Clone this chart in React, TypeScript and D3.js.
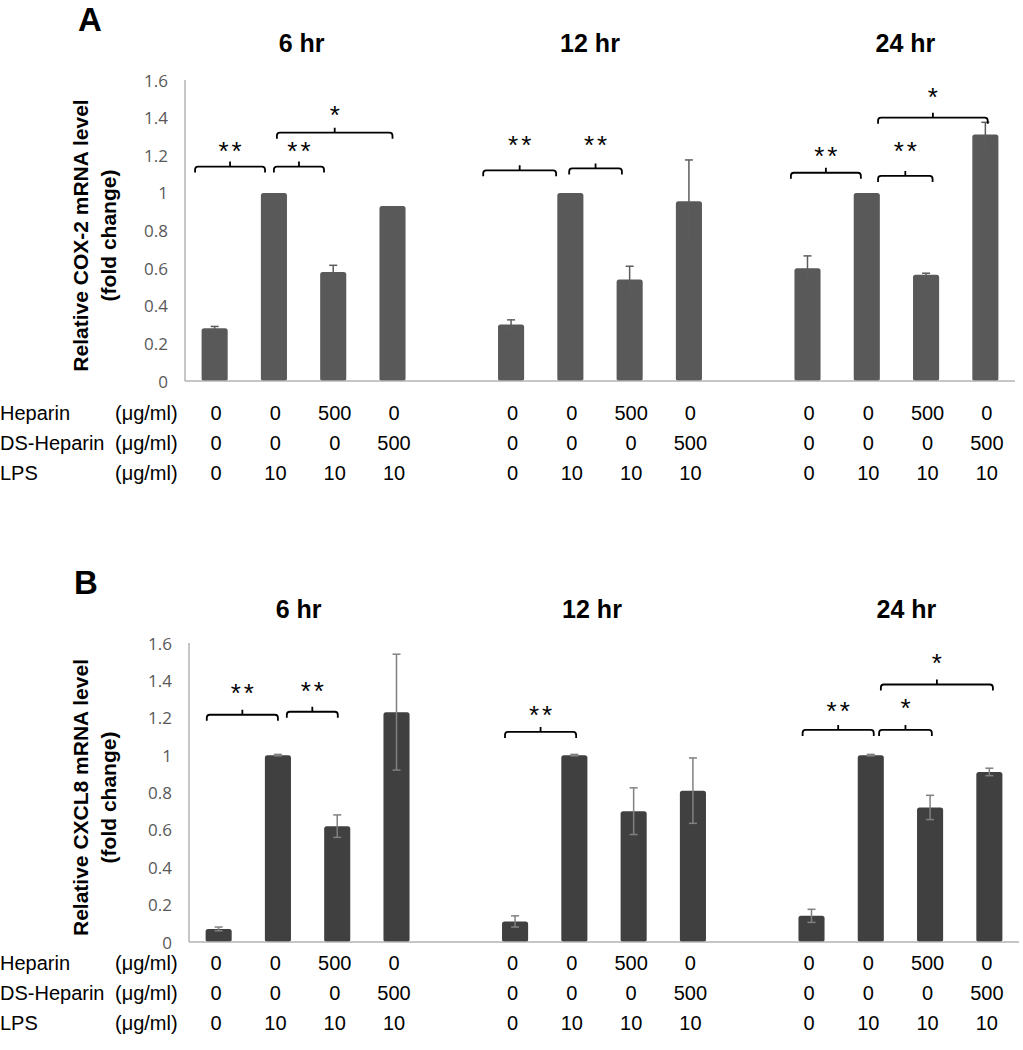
import React from "react";
import * as d3 from "d3";

// ---------- DATA ----------
const groups = ["6 hr", "12 hr", "24 hr"];
const conditions = ["Control", "LPS", "Heparin+LPS", "DS-Heparin+LPS"];

const cox2Values = [
  [0.28, 1.0, 0.58, 0.93],
  [0.30, 1.0, 0.54, 0.955],
  [0.60, 1.0, 0.565, 1.31],
];
const cox2Errors = [
  [0.01, 0, 0.035, 0],
  [0.025, 0, 0.07, 0.22],
  [0.065, 0, 0.008, 0.065],
];

const cxcl8Values = [
  [0.07, 1.0, 0.62, 1.23],
  [0.11, 1.0, 0.70, 0.81],
  [0.14, 1.0, 0.72, 0.91],
];
const cxcl8Errors = [
  [0.01, 0.004, 0.06, 0.31],
  [0.03, 0.004, 0.125, 0.175],
  [0.035, 0.004, 0.065, 0.02],
];

const yTicks = [0, 0.2, 0.4, 0.6, 0.8, 1, 1.2, 1.4, 1.6];

const rowLabels = ["Heparin", "DS-Heparin", "LPS"];
const unitLabel = "(μg/ml)";
const heparinRow = ["0", "0", "500", "0"];
const dsHeparinRow = ["0", "0", "0", "500"];
const lpsRow = ["0", "10", "10", "10"];

// significance brackets: from/to in condition-index units, level/starLevel in data units
const cox2Brackets = [
  { g: 0, from: -0.33, to: 0.85, level: 1.14, starLevel: 1.25, label: "**" },
  { g: 0, from: 1.0, to: 1.845, level: 1.14, starLevel: 1.25, label: "**" },
  { g: 0, from: 1.05, to: 3.0, level: 1.32, starLevel: 1.44, label: "*" },
  { g: 1, from: -0.47, to: 0.76, level: 1.12, starLevel: 1.283, label: "**" },
  { g: 1, from: 0.98, to: 1.87, level: 1.13, starLevel: 1.283, label: "**" },
  { g: 2, from: -0.28, to: 0.9, level: 1.107, starLevel: 1.225, label: "**" },
  { g: 2, from: 1.19, to: 2.11, level: 1.09, starLevel: 1.25, label: "**" },
  { g: 2, from: 1.19, to: 3.04, level: 1.4, starLevel: 1.535, label: "*" },
];
const cxcl8Brackets = [
  { g: 0, from: -0.2, to: 1.0, level: 1.216, starLevel: 1.357, label: "**" },
  { g: 0, from: 1.15, to: 2.01, level: 1.232, starLevel: 1.368, label: "**" },
  { g: 1, from: -0.17, to: 1.03, level: 1.124, starLevel: 1.243, label: "**" },
  { g: 2, from: -0.15, to: 1.05, level: 1.135, starLevel: 1.265, label: "**" },
  { g: 2, from: 1.14, to: 2.03, level: 1.135, starLevel: 1.281, label: "*" },
  { g: 2, from: 1.17, to: 3.06, level: 1.378, starLevel: 1.519, label: "*" },
];

// ---------- LAYOUT ----------
const W = 1023;
const H = 1050;
const FONT = "'Liberation Sans', Arial, sans-serif";
const TICKFONT = "'Open Sans', 'Liberation Sans', sans-serif";

function makeX(x0: number, x1: number) {
  const outer = d3.scaleBand<string>().domain(groups).range([x0, x1]).paddingInner(0.2).paddingOuter(0);
  const inner = d3.scaleBand<string>().domain(conditions).range([0, outer.bandwidth()]).paddingInner(0.56).paddingOuter(0.28);
  const center = (g: number, pos: number) => (outer(groups[g]) as number) + inner.step() * (pos + 0.5);
  return { outer, inner, center };
}

function bracketPath(x1: number, x2: number, y: number) {
  const hook = 6;
  const r = 3;
  const mid = (x1 + x2) / 2;
  return (
    `M${x1},${y + hook} L${x1},${y + r} Q${x1},${y} ${x1 + r},${y} ` +
    `L${x2 - r},${y} Q${x2},${y} ${x2},${y + r} L${x2},${y + hook} ` +
    `M${mid},${y} L${mid},${y - 5}`
  );
}

type PanelProps = {
  letter: string;
  letterX: number;
  letterY: number;
  titleY: number;
  titleDx: number[];
  axisX0: number;
  axisX1: number;
  y0: number;
  yTop: number;
  values: number[][];
  errors: number[][];
  brackets: typeof cox2Brackets;
  barColor: string;
  errColor: string;
  yTitle: string;
  tableY: number;
};

function Panel(p: PanelProps) {
  const { outer, inner, center } = makeX(p.axisX0, p.axisX1);
  const y = d3.scaleLinear().domain([0, 1.6]).range([p.y0, p.yTop]);
  const tableX = makeX(185 + 1.5, 1015 + 1.5);
  const yMid = (p.y0 + p.yTop) / 2 + 5;
  const rows = [heparinRow, dsHeparinRow, lpsRow];
  return (
    <g>
      <text x={p.letterX} y={p.letterY} fontFamily={FONT} fontWeight="bold" fontSize={33} fill="#000">
        {p.letter}
      </text>
      {groups.map((g, gi) => (
        <text
          key={g}
          x={(outer(g) as number) + outer.bandwidth() / 2 + p.titleDx[gi]}
          y={p.titleY}
          textAnchor="middle"
          fontFamily={FONT}
          fontWeight="bold"
          fontSize={25}
          fill="#000"
        >
          {g}
        </text>
      ))}
      {/* y axis title */}
      <g transform={`translate(80,${yMid}) rotate(-90)`}>
        <text textAnchor="middle" dominantBaseline="central" fontFamily={FONT} fontWeight="bold" fontSize={21} fill="#000">
          {p.yTitle}
        </text>
      </g>
      <g transform={`translate(108,${yMid}) rotate(-90)`}>
        <text textAnchor="middle" dominantBaseline="central" fontFamily={FONT} fontWeight="bold" fontSize={21} fill="#000">
          (fold change)
        </text>
      </g>
      {/* y ticks */}
      {yTicks.map((t) => (
        <text
          key={t}
          x={p.axisX0 - 17}
          y={y(t)}
          textAnchor="end"
          dominantBaseline="central"
          fontFamily={TICKFONT}
          fontSize={17}
          fill="#595959"
        >
          {String(t)}
        </text>
      ))}
      {/* bars */}
      {p.values.map((vals, gi) =>
        vals.map((v, ci) => {
          const bx = (outer(groups[gi]) as number) + (inner(conditions[ci]) as number);
          return (
            <rect
              key={`b${gi}-${ci}`}
              x={bx}
              y={y(v)}
              width={inner.bandwidth()}
              height={p.y0 - y(v)}
              rx={2.5}
              fill={p.barColor}
            />
          );
        })
      )}
      {/* error bars */}
      {p.values.map((vals, gi) =>
        vals.map((v, ci) => {
          const e = p.errors[gi][ci];
          if (e <= 0) return null;
          const cx = center(gi, ci);
          return (
            <g key={`e${gi}-${ci}`} stroke={p.errColor} strokeWidth={1.5}>
              <line x1={cx} x2={cx} y1={y(v + e)} y2={y(v - e)} />
              <line x1={cx - 4} x2={cx + 4} y1={y(v + e)} y2={y(v + e)} />
              <line x1={cx - 4} x2={cx + 4} y1={y(v - e)} y2={y(v - e)} />
            </g>
          );
        })
      )}
      {/* axes */}
      <line x1={p.axisX0} x2={p.axisX0} y1={y(1.6)} y2={p.y0} stroke="#b3b3b3" strokeWidth={1.5} />
      <line x1={p.axisX0} x2={p.axisX1} y1={p.y0} y2={p.y0} stroke="#b3b3b3" strokeWidth={1.5} />
      {/* brackets */}
      {p.brackets.map((b, i) => {
        const x1 = center(b.g, b.from);
        const x2 = center(b.g, b.to);
        return (
          <g key={`br${i}`}>
            <path d={bracketPath(x1, x2, y(b.level))} fill="none" stroke="#000" strokeWidth={1.8} />
            <text
              x={(x1 + x2) / 2 + (b.label.length > 1 ? 1.5 : 0)}
              y={y(b.starLevel) + 14}
              textAnchor="middle"
              fontFamily={FONT}
              fontSize={26}
              letterSpacing={b.label.length > 1 ? 3 : 0}
              fill="#000"
            >
              {b.label}
            </text>
          </g>
        );
      })}
      {/* table */}
      {rowLabels.map((lab, ri) => (
        <g key={lab}>
          <text x={0} y={p.tableY + ri * 30 + 7} fontFamily={FONT} fontSize={20} fill="#000">
            {lab}
          </text>
          <text x={115} y={p.tableY + ri * 30 + 7} fontFamily={FONT} fontSize={20} fill="#000">
            {unitLabel}
          </text>
          {groups.map((g, gi) =>
            rows[ri].map((val, ci) => (
              <text
                key={`${gi}-${ci}`}
                x={tableX.center(gi, ci)}
                y={p.tableY + ri * 30 + 7}
                textAnchor="middle"
                fontFamily={FONT}
                fontSize={20}
                fill="#000"
              >
                {val}
              </text>
            ))
          )}
        </g>
      ))}
    </g>
  );
}

export default function App() {
  return (
    <svg
      width={W}
      height={H}
      viewBox={`0 0 ${W} ${H}`}
      style={{ position: "absolute", left: 0, top: 0, background: "#fff", display: "block" }}
    >
      <rect x={0} y={0} width={W} height={H} fill="#fff" />
      <Panel
        letter="A"
        letterX={78}
        letterY={31}
        titleY={52}
        titleDx={[-2, -10, 9]}
        axisX0={185}
        axisX1={1015}
        y0={381}
        yTop={80}
        values={cox2Values}
        errors={cox2Errors}
        brackets={cox2Brackets}
        barColor="#595959"
        errColor="#5c5c5c"
        yTitle="Relative COX-2 mRNA level"
        tableY={413}
      />
      <Panel
        letter="B"
        letterX={74}
        letterY={594}
        titleY={618}
        titleDx={[-9, -12, 6]}
        axisX0={189}
        axisX1={1019}
        y0={942}
        yTop={643}
        values={cxcl8Values}
        errors={cxcl8Errors}
        brackets={cxcl8Brackets}
        barColor="#404040"
        errColor="#808080"
        yTitle="Relative CXCL8 mRNA level"
        tableY={963}
      />
    </svg>
  );
}
